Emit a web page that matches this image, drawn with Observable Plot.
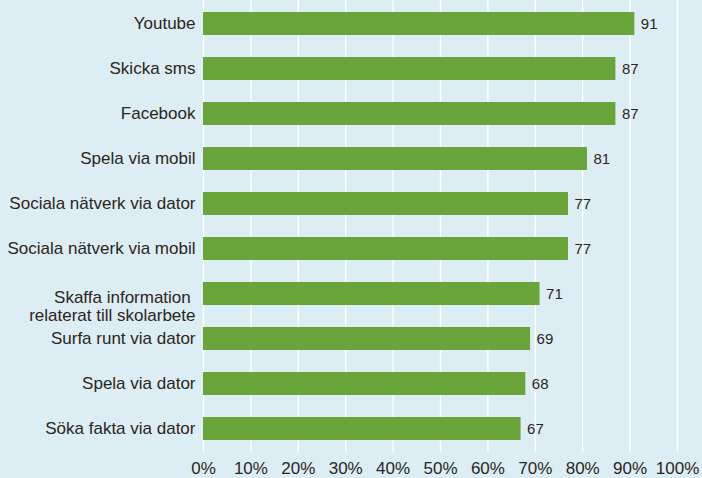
<!DOCTYPE html>
<html>
<head>
<meta charset="utf-8">
<script src="https://cdn.jsdelivr.net/npm/d3@7"></script>
<script src="https://cdn.jsdelivr.net/npm/@observablehq/plot@0.6"></script>
<style>
  html, body { margin: 0; padding: 0; background: #ddedf4; }
  #chart svg { display: block; }
  #chart svg text { white-space: pre; }
</style>
</head>
<body>
<div id="chart"></div>
<script>
const categories = [
  "Youtube",
  "Skicka sms",
  "Facebook",
  "Spela via mobil",
  "Sociala nätverk via dator",
  "Sociala nätverk via mobil",
  "Skaffa information \nrelaterat till skolarbete",
  "Surfa runt via dator",
  "Spela via dator",
  "Söka fakta via dator"
];
const values = [91, 87, 87, 81, 77, 77, 71, 69, 68, 67];
const xTicks = [0, 10, 20, 30, 40, 50, 60, 70, 80, 90, 100];

const data = categories.map((c, i) => ({category: c, value: values[i]}));
const single = data.filter(d => !d.category.includes("\n"));
const multi = data.filter(d => d.category.includes("\n"));

const textColor = "#2b2620";
const font = "'Liberation Sans', Arial, Helvetica, sans-serif";

const chart = Plot.plot({
  width: 702,
  height: 478,
  marginLeft: 203,
  marginRight: 25,
  marginTop: 0,
  marginBottom: 26,
  style: {background: "#ddedf4", fontFamily: font, color: textColor},
  x: {domain: [0, 100], axis: null},
  y: {domain: categories, range: [10, 440.7], paddingInner: 0.5, paddingOuter: 0, axis: null},
  marks: [
    Plot.ruleX(xTicks, {x: d => d, stroke: "#ffffff", strokeWidth: 1.4}),
    Plot.barX(data, {x: "value", y: "category", fill: "#6aa53b"}),
    Plot.text(data, {x: "value", y: "category", text: d => String(d.value), textAnchor: "start", dx: 6, fontSize: 15, fill: textColor}),
    Plot.text(single, {y: "category", frameAnchor: "left", text: "category", textAnchor: "end", dx: -8, fontSize: 17, fill: textColor}),
    Plot.text(multi, {y: "category", frameAnchor: "left", text: "category", textAnchor: "end", dx: -8, dy: 12, lineHeight: 1.08, fontSize: 17, fill: textColor}),
    Plot.text(xTicks, {x: d => d, frameAnchor: "bottom", text: d => d + "%", lineAnchor: "top", dy: 9.5, fontSize: 17, fill: textColor})
  ]
});
document.getElementById("chart").appendChild(chart);
</script>
</body>
</html>
